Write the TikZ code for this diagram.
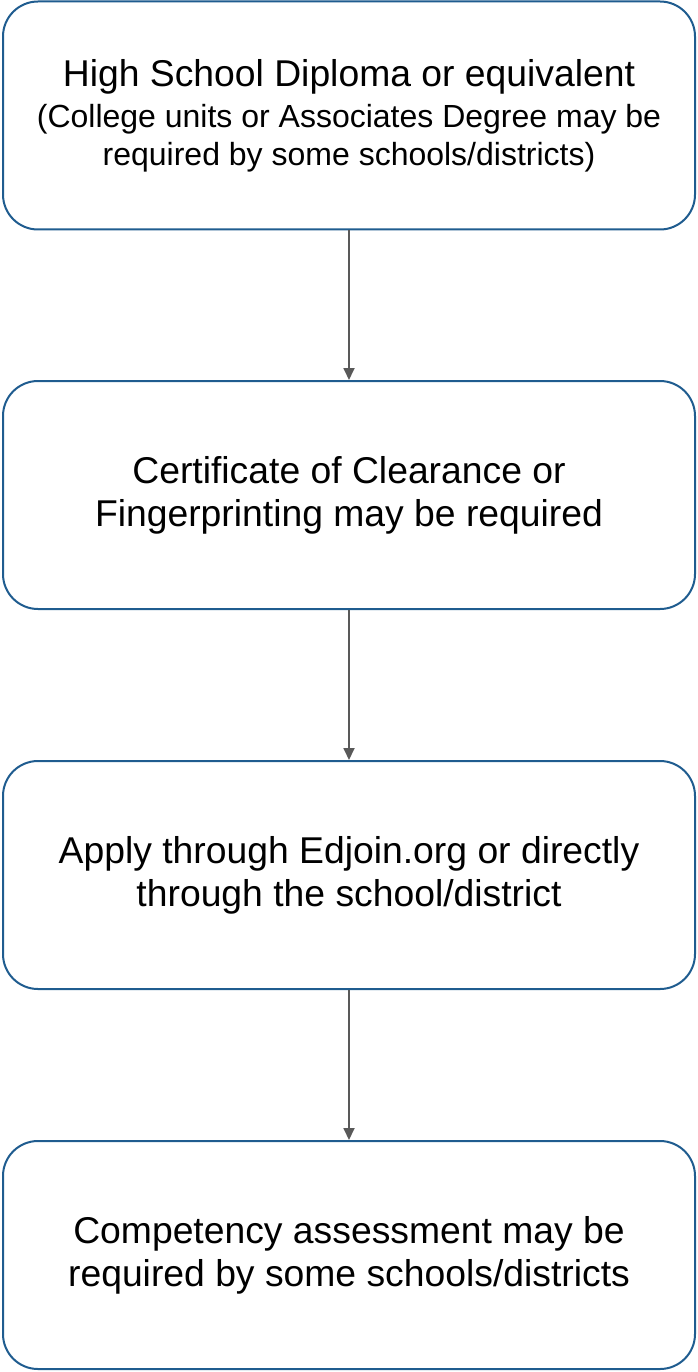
\documentclass[tikz,border=0pt]{standalone}
\usepackage{fontspec}
\setmainfont{Liberation Sans}
\usetikzlibrary{arrows.meta}
\definecolor{boxblue}{HTML}{1F5C8F}
\definecolor{arrowgray}{HTML}{595959}
\tikzset{
  stepbox/.style={draw=boxblue, line width=2pt, rounded corners=35pt,
    minimum width=692pt, minimum height=228pt, align=center, inner sep=0pt,
    font=\fontsize{37.3}{42.9}\selectfont},
  flow/.style={draw=arrowgray, line width=1.8pt, -{Triangle[length=12pt,width=11pt]}}
}
\begin{document}
\begin{tikzpicture}[x=1pt,y=-1pt]
\useasboundingbox (0,0) rectangle (697,1372);
\node[stepbox] (b1) at (349,115.5) {High School Diploma or equivalent\\[-2pt]
  \fontsize{32}{36.8}\selectfont (College units or Associates Degree may be\\[-5pt]
  \fontsize{32}{36.8}\selectfont required by some schools/districts)};
\node[stepbox] (b2) at (349,495) {Certificate of Clearance or\\Fingerprinting may be required};
\node[stepbox] (b3) at (349,875) {Apply through Edjoin.org or directly\\through the school/district};
\node[stepbox] (b4) at (349,1255) {Competency assessment may be\\required by some schools/districts};
\draw[flow] (b1.south) -- (b2.north);
\draw[flow] (b2.south) -- (b3.north);
\draw[flow] (b3.south) -- (b4.north);
\end{tikzpicture}
\end{document}
